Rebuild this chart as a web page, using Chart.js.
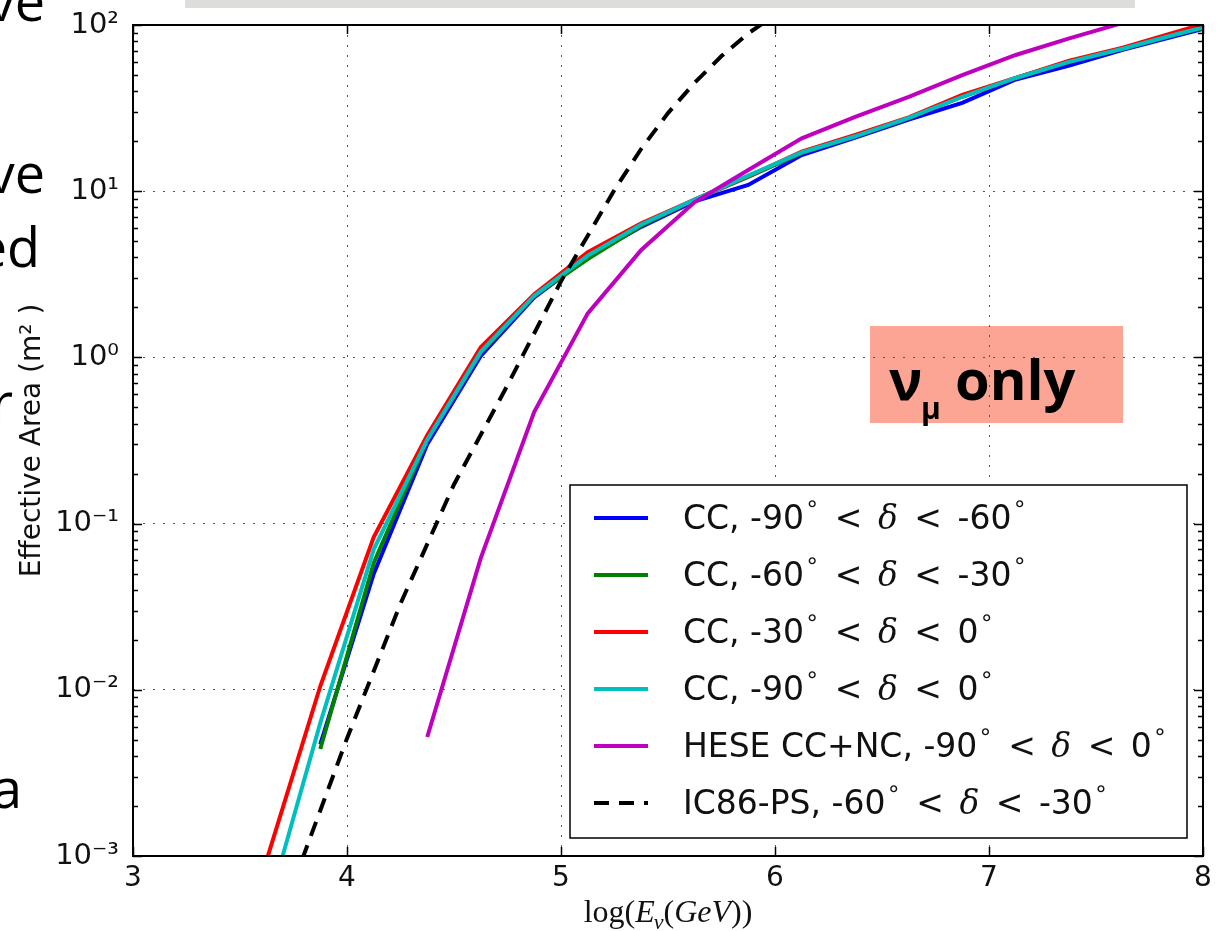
<!DOCTYPE html>
<html>
<head>
<meta charset="utf-8">
<script src="https://cdn.jsdelivr.net/npm/chart.js@4.4.1/dist/chart.umd.min.js"></script>
<style>
  html, body { margin: 0; padding: 0; background: #fff; }
  #wrap { position: relative; width: 1218px; height: 931px; overflow: hidden; }
  canvas { position: absolute; left: 0; top: 0; }
  .frag { position: absolute; font-family: "Open Sans", sans-serif; font-size: 54px; line-height: 54px; color: #000; white-space: nowrap; }
  #bar { position: absolute; left: 185px; top: 0; width: 950px; height: 8px; background: #dddddb; }
</style>
</head>
<body>
<div id="wrap">
  <canvas id="areaChart" width="1218" height="931"></canvas>
  <div id="bar"></div>
  <div class="frag" style="right:1173px; top:-27px">ve</div>
  <div class="frag" style="right:1173px; top:145px">ve</div>
  <div class="frag" style="right:1178px; top:219px">ed</div>
  <div class="frag" style="right:1205px; top:374px">r</div>
  <div class="frag" style="right:1196px; top:760px">a</div>
</div>
<script>
// log10(E) grid of the CC / HESE curves
const energyCC = [3.625, 3.875, 4.125, 4.375, 4.625, 4.875, 5.125, 5.375, 5.625, 5.875,
                  6.125, 6.375, 6.625, 6.875, 7.125, 7.375, 7.625, 7.875, 8.125];
const ccMinus90to60 = [null, 0.0047, 0.05, 0.30, 1.02, 2.3, 4.0, 6.1, 8.7, 10.9,
                       16.5, 21, 27, 34, 47, 57, 71, 86, 104];
const ccMinus60to30 = [null, 0.0044, 0.058, 0.32, 1.07, 2.35, 3.9, 6.2, 8.9, 12.2,
                       17, 21.4, 27.5, 37, 48, 60, 72, 88, 105];
const ccMinus30to0 = [0.00095, 0.0105, 0.083, 0.34, 1.15, 2.4, 4.3, 6.4, 8.9, 12.3,
                      17.3, 21.8, 27.8, 38, 48, 61, 73, 91, 112];
const ccMinus90to0 = [0.00046, 0.0063, 0.07, 0.32, 1.08, 2.35, 4.1, 6.3, 8.9, 12.4,
                      17.1, 21.4, 27.6, 37, 48, 60, 72, 88, 106];
const heseMinus90to0 = [null, null, null, 0.0052, 0.062, 0.47, 1.84, 4.43, 8.6, 13.4,
                        20.8, 28, 37, 50, 66, 83, 103, 125, 150];
// IC86 point source sample
const energyPS = [3.75, 4.0, 4.25, 4.5, 4.75, 5.0, 5.125, 5.25, 5.375, 5.5, 5.625, 5.75, 5.875, 6.0];
const ic86Minus60to30 = [0.00069, 0.0051, 0.033, 0.172, 0.68, 2.87, 5.4, 10.2, 18, 29.5, 45, 65, 89, 115];

const seriesLabels = [
    "CC, -90° < δ < -60°",
    "CC, -60° < δ < -30°",
    "CC, -30° < δ < 0°",
    "CC, -90° < δ < 0°",
    "HESE CC+NC, -90° < δ < 0°",
    "IC86-PS, -60° < δ < -30°",
];
const xTickLabels = ["3", "4", "5", "6", "7", "8"];
const yTickLabels = ["10⁻³", "10⁻²", "10⁻¹", "10⁰", "10¹", "10²"];

const toPoints = (xs, ys) => xs.map((x, i) => ({ x: x, y: ys[i] })).filter(p => p.y !== null);
const isMajor = v => Math.abs(Math.log10(v) - Math.round(Math.log10(v))) < 1e-6;

function makeLine(label, xs, ys, color, order, dash) {
    return {
        label: label,
        data: toPoints(xs, ys),
        borderColor: color,
        backgroundColor: color,
        borderWidth: 4,
        borderDash: dash || [],
        pointRadius: 0,
        tension: 0,
        clip: 0,
        order: order,
    };
}

// text with ° as a superscript ring, δ as italic serif, wider spacing round "<"
function richParts(str, size) {
    const parts = [];
    let buf = "";
    const plain = size + "px 'DejaVu Sans'";
    const flush = () => { if (buf) parts.push({ t: buf, font: plain, dy: 0 }); buf = ""; };
    for (const ch of str) {
        if (ch === "°") {
            flush();
            parts.push({ t: "∘", font: Math.round(size * 0.7) + "px 'DejaVu Sans'", dy: -size * 0.45, dx: 1, pre: 1 });
        } else if (ch === "δ") {
            flush();
            parts.push({ t: "δ", font: "italic " + size + "px 'DejaVu Serif'", dy: 0, dx: 2 });
        } else if (ch === "<") {
            flush();
            parts.push({ t: "<", font: plain, dy: 0, dx: 5, pre: 4 });
        } else buf += ch;
    }
    flush();
    return parts;
}

function drawParts(ctx, x, y, parts) {
    for (const p of parts) {
        ctx.font = p.font;
        x += p.pre || 0;
        ctx.fillText(p.t, x, y + p.dy);
        x += ctx.measureText(p.t).width + (p.dx || 0);
    }
    return x;
}

const decorations = {
    id: "decorations",
    beforeDraw(chart) {
        const ctx = chart.ctx;
        ctx.save();
        ctx.fillStyle = "#fff";
        ctx.fillRect(0, 0, chart.width, chart.height);
        // nu_mu only box
        ctx.fillStyle = "#fda594";
        ctx.fillRect(870, 326, 253, 97);
        ctx.fillStyle = "#000";
        ctx.textBaseline = "alphabetic";
        ctx.font = "bold 56px 'Open Sans'";
        ctx.fillText("ν", 889, 400);
        ctx.font = "bold 30px 'Open Sans'";
        ctx.fillText("μ", 921, 419);
        ctx.font = "bold 56px 'Open Sans'";
        ctx.fillText("only", 955, 400);
        ctx.restore();
    },
    afterDatasetsDraw(chart) {
        const ctx = chart.ctx;
        const a = chart.chartArea;
        const xs = chart.scales.x, ys = chart.scales.y;
        ctx.save();
        ctx.strokeStyle = "#000";
        ctx.lineWidth = 1.5;
        ctx.beginPath();
        ys.ticks.forEach(t => {
            const py = Math.round(ys.getPixelForValue(t.value)) + 0.5;
            const len = isMajor(t.value) ? 9 : 5;
            ctx.moveTo(a.left, py); ctx.lineTo(a.left + len, py);
            ctx.moveTo(a.right, py); ctx.lineTo(a.right - len, py);
        });
        xs.ticks.forEach(t => {
            const px = Math.round(xs.getPixelForValue(t.value)) + 0.5;
            ctx.moveTo(px, a.bottom); ctx.lineTo(px, a.bottom - 9);
            ctx.moveTo(px, a.top); ctx.lineTo(px, a.top + 9);
        });
        ctx.stroke();
        ctx.lineWidth = 2;
        ctx.strokeRect(a.left, a.top, a.right - a.left, a.bottom - a.top);
        ctx.restore();
    },
    afterDraw(chart) {
        const ctx = chart.ctx;
        const a = chart.chartArea;
        ctx.save();
        // legend
        const box = { x: 570, y: 485, w: 617, h: 353 };
        ctx.fillStyle = "#fff";
        ctx.fillRect(box.x, box.y, box.w, box.h);
        ctx.strokeStyle = "#000";
        ctx.lineWidth = 1.5;
        ctx.strokeRect(box.x, box.y, box.w, box.h);
        ctx.textBaseline = "middle";
        chart.data.datasets.forEach((ds, i) => {
            const y = 518 + i * 57;
            ctx.strokeStyle = ds.borderColor;
            ctx.lineWidth = 4;
            ctx.setLineDash(ds.borderDash.length ? [15, 10] : []);
            ctx.beginPath();
            ctx.moveTo(594, y);
            ctx.lineTo(648, y);
            ctx.stroke();
            ctx.setLineDash([]);
            ctx.fillStyle = "#111";
            drawParts(ctx, 683, y + 2, richParts(ds.label, 33));
        });
        // x axis title: log(E_nu(GeV))
        ctx.textBaseline = "alphabetic";
        ctx.fillStyle = "#111";
        const serif = "'Liberation Serif'";
        const parts = [
            { t: "log(", font: "32px " + serif, dy: 0 },
            { t: "E", font: "italic 32px " + serif, dy: 0, dx: -1 },
            { t: "ν", font: "italic 22px " + serif, dy: 7 },
            { t: "(", font: "32px " + serif, dy: 0 },
            { t: "GeV", font: "italic 32px " + serif, dy: 0 },
            { t: "))", font: "32px " + serif, dy: 0 },
        ];
        let w = 0;
        parts.forEach(p => { ctx.font = p.font; w += ctx.measureText(p.t).width + (p.dx || 0); });
        drawParts(ctx, (a.left + a.right) / 2 - w / 2, 922, parts);
        ctx.restore();
    },
};

const chart = new Chart(document.getElementById("areaChart").getContext("2d"), {
    type: "line",
    data: {
        datasets: [
            makeLine(seriesLabels[0], energyCC, ccMinus90to60, "#0000ff", 6),
            makeLine(seriesLabels[1], energyCC, ccMinus60to30, "#008000", 5),
            makeLine(seriesLabels[2], energyCC, ccMinus30to0, "#ff0000", 4),
            makeLine(seriesLabels[3], energyCC, ccMinus90to0, "#00bfbf", 3),
            makeLine(seriesLabels[4], energyCC, heseMinus90to0, "#bf00bf", 2),
            makeLine(seriesLabels[5], energyPS, ic86Minus60to30, "#000000", 1, [15, 10]),
        ],
    },
    options: {
        responsive: false,
        animation: false,
        devicePixelRatio: 1,
        layout: { padding: { top: 25, right: 15, left: 0, bottom: 0 } },
        plugins: {
            legend: { display: false },
            tooltip: { enabled: false },
        },
        scales: {
            x: {
                type: "linear",
                min: 3,
                max: 8,
                ticks: {
                    stepSize: 1,
                    padding: 6,
                    color: "#111",
                    font: { family: "DejaVu Sans", size: 28 },
                    callback: (v) => xTickLabels[Math.round(v) - 3],
                },
                grid: { color: "#555", lineWidth: 1, drawTicks: false },
                border: { display: false, dash: [2, 8] },
                afterFit: (scale) => { scale.height = 75; },
            },
            y: {
                type: "logarithmic",
                min: 0.001,
                max: 100,
                afterBuildTicks: (scale) => {
                    const t = [];
                    for (let e = -3; e <= 2; e++) {
                        for (let k = 1; k <= 9; k++) {
                            const v = k * Math.pow(10, e);
                            if (v <= 100.0001) t.push({ value: v });
                        }
                    }
                    scale.ticks = t;
                },
                ticks: {
                    autoSkip: false,
                    padding: 14,
                    color: "#111",
                    font: { family: "DejaVu Sans", size: 29, lineHeight: 0.6 },
                    callback: (v) => isMajor(v) ? yTickLabels[Math.round(Math.log10(v)) + 3] : "",
                },
                grid: {
                    color: (c) => (c.tick && isMajor(c.tick.value)) ? "#555" : "rgba(0,0,0,0)",
                    lineWidth: 1,
                    drawTicks: false,
                },
                border: { display: false, dash: [2, 8] },
                title: {
                    display: true,
                    text: "Effective Area (m² )",
                    color: "#111",
                    font: { family: "DejaVu Sans", size: 28 },
                    padding: { top: 16, bottom: 0 },
                },
                afterFit: (scale) => { scale.width = 133; },
            },
        },
    },
    plugins: [decorations],
});
</script>
</body>
</html>
